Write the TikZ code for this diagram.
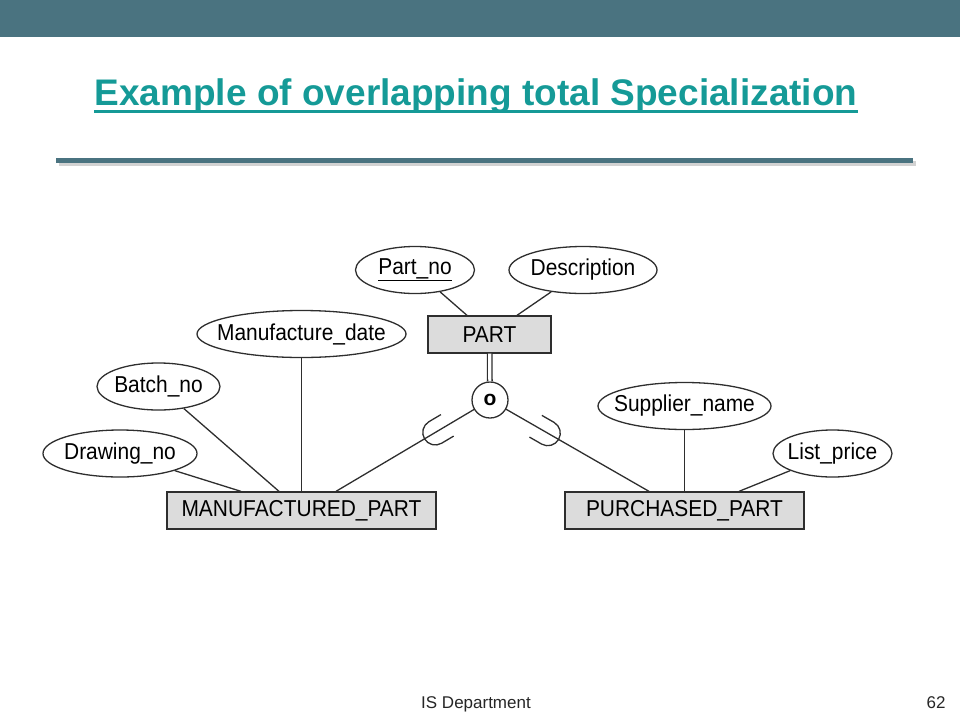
\documentclass[tikz,border=0pt]{standalone}
\usepackage{fontspec}
\setmainfont{Liberation Sans}
\newfontfamily\erfont[FakeStretch=0.91]{Liberation Sans}
\usetikzlibrary{shapes.geometric, positioning, decorations.markings}
\definecolor{barcol}{HTML}{4A7380}
\definecolor{titlecol}{HTML}{159A97}
\definecolor{entfill}{HTML}{DCDCDC}
\definecolor{inkcol}{HTML}{2E2E2E}
\tikzstyle{entity} = [rectangle, minimum height=37pt, inner sep=0pt, text centered, draw=inkcol, fill=entfill, line width=1.3pt, font=\erfont\fontsize{23}{27}\selectfont]
\tikzstyle{attrib} = [ellipse, minimum height=47pt, inner xsep=-12pt, inner ysep=0pt, draw=inkcol, line width=1.3pt, font=\erfont\fontsize{23}{27}\selectfont]
\tikzstyle{link} = [draw=inkcol, line width=1.3pt]
\tikzset{subsetmark/.style={postaction={decorate}, decoration={markings, mark=at position #1 with {\draw[link] (-14pt,12.5pt) -- (0pt,12.5pt) arc[start angle=90, end angle=-90, radius=12.5pt] -- (-14pt,-12.5pt);}}}}

\begin{document}
\begin{tikzpicture}[x=1pt, y=-1pt]
\useasboundingbox (0,0) rectangle (960,720);

% slide frame
\fill[barcol] (0,0) rectangle (960,37);
\fill[gray!35] (59,161) rectangle (916,166);
\fill[barcol] (56,158) rectangle (913,163);
\node (title) [inner sep=0pt, anchor=base, text=titlecol, font=\fontsize{37}{44}\selectfont\bfseries] at (476,105) {Example of overlapping total Specialization};
\draw[titlecol, line width=3pt] ([yshift=-6.5pt]title.base west) -- ([yshift=-6.5pt]title.base east);

% entities
\node (part) [entity, minimum width=123pt] at (489.5,334.5) {PART};
\node (mpart) [entity, minimum width=269pt] at (301.5,510.5) {MANUFACTURED\_PART};
\node (ppart) [entity, minimum width=239pt] at (684.5,510.5) {PURCHASED\_PART};
\node (ovl) [circle, draw=inkcol, line width=1.3pt, minimum size=36pt, inner sep=0pt, font=\fontsize{21}{25}\selectfont\bfseries] at (490,400) {o};

% attributes
\node (partno) [attrib, minimum width=119pt] at (415,270) {\underline{Part\_no}};
\node (descr) [attrib, minimum width=148pt] at (583,270) {Description};
\node (mdate) [attrib, minimum width=209pt] at (301.5,334) {Manufacture\_date};
\node (batch) [attrib, minimum width=123pt] at (158.5,386.5) {Batch\_no};
\node (drawing) [attrib, minimum width=154pt] at (120,453.5) {Drawing\_no};
\node (supp) [attrib, minimum width=173pt] at (684.5,406) {Supplier\_name};
\node (listp) [attrib, minimum width=119pt] at (832.5,453.5) {List\_price};

% connectors
\draw [link] (partno) -- ([xshift=-22.5pt]part.north);
\draw [link] (descr) -- ([xshift=27.5pt]part.north);
\draw [link, double, double distance=3.2pt] (part) -- (ovl);
\draw [link, subsetmark=45pt] (ovl) -- ([xshift=34.5pt]mpart.north);
\draw [link, subsetmark=48pt] (ovl) -- ([xshift=-35.5pt]ppart.north);
\draw [link] (mdate) -- (mpart);
\draw [link] (batch) -- ([xshift=-22.5pt]mpart.north);
\draw [link] (drawing) -- ([xshift=-60.5pt]mpart.north);
\draw [link] (supp) -- (ppart);
\draw [link] (listp) -- ([xshift=54.5pt]ppart.north);

% footer
\node (dept) [anchor=base, text=black!85, font=\fontsize{17}{20}\selectfont] at (476,708) {IS Department};
\node (pageno) [anchor=base, text=black!85, font=\fontsize{17}{20}\selectfont] at (936,708) {62};

\end{tikzpicture}
\end{document}
